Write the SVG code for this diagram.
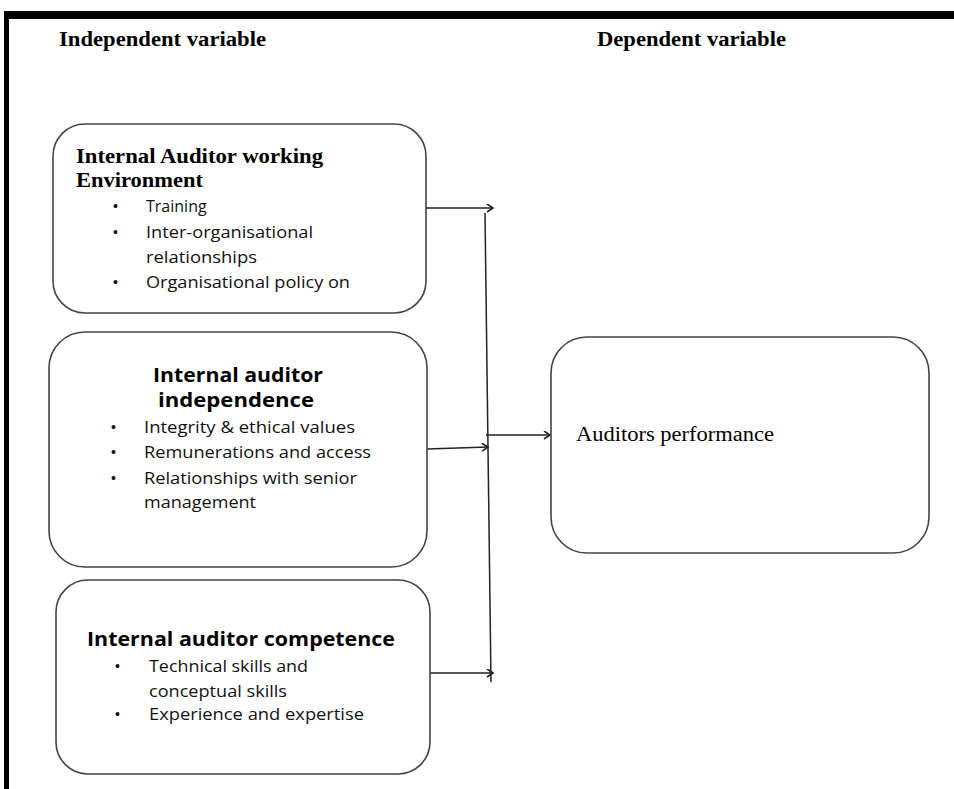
<svg xmlns="http://www.w3.org/2000/svg" width="954" height="789" viewBox="0 0 954 789">
<style>
.box{fill:#fff;stroke:#444;stroke-width:1.6}
.hd{font-family:"Liberation Serif",serif;font-weight:bold;font-size:20px;fill:#000}
.t1{font-family:"Liberation Serif",serif;font-weight:bold;font-size:21px;fill:#000}
.t2{font-family:"Open Sans","Liberation Sans",sans-serif;font-weight:bold;font-size:20px;fill:#000}
.it{font-family:"Open Sans","Liberation Sans",sans-serif;font-size:16px;fill:#111}
.bul{font-family:"Liberation Sans",sans-serif;font-size:14px;fill:#111}
.perf{font-family:"Liberation Serif",serif;font-size:20px;fill:#000}
.con{stroke:#222;stroke-width:1.5;fill:none}
</style>
<defs>
<marker id="ah" markerWidth="10" markerHeight="10" refX="8" refY="4" orient="auto" markerUnits="userSpaceOnUse">
<path d="M2,0 L8,4 L2,8" fill="none" stroke="#222" stroke-width="1.6"/>
</marker>
</defs>
<rect width="954" height="789" fill="#fff"/>
<g id="frame">
<rect x="4" y="11" width="950" height="8" fill="#000"/>
<rect x="4" y="11" width="5" height="778" fill="#000"/>
</g>
<g id="headers">
<text class="hd" x="59" y="46" textLength="207" lengthAdjust="spacingAndGlyphs">Independent variable</text>
<text class="hd" x="597" y="46" textLength="189" lengthAdjust="spacingAndGlyphs">Dependent variable</text>
</g>
<g id="connectors">
<line class="con" x1="426" y1="208" x2="493" y2="208" marker-end="url(#ah)"/>
<line class="con" x1="485" y1="213" x2="491" y2="682"/>
<line class="con" x1="427" y1="449" x2="488" y2="447" marker-end="url(#ah)"/>
<line class="con" x1="486" y1="435" x2="550" y2="435" marker-end="url(#ah)"/>
<line class="con" x1="430" y1="673" x2="493" y2="673" marker-end="url(#ah)"/>
</g>
<g id="box1">
<rect class="box" x="53" y="124" width="373" height="189" rx="32"/>
<text class="t1" x="76" y="163" textLength="247" lengthAdjust="spacingAndGlyphs">Internal Auditor working</text>
<text class="t1" x="76" y="187" textLength="127" lengthAdjust="spacingAndGlyphs">Environment</text>
<text class="bul" x="113" y="211">•</text>
<text class="it" x="146" y="212">Training</text>
<text class="bul" x="113" y="237">•</text>
<text class="it" x="146" y="238" textLength="167" lengthAdjust="spacingAndGlyphs">Inter-organisational</text>
<text class="it" x="146" y="263" textLength="111" lengthAdjust="spacingAndGlyphs">relationships</text>
<text class="bul" x="113" y="287">•</text>
<text class="it" x="146" y="288" textLength="204" lengthAdjust="spacingAndGlyphs">Organisational policy on</text>
</g>
<g id="box2">
<rect class="box" x="49" y="332" width="378" height="235" rx="36"/>
<text class="t2" x="238" y="382" text-anchor="middle" textLength="170" lengthAdjust="spacingAndGlyphs">Internal auditor</text>
<text class="t2" x="236" y="407" text-anchor="middle" textLength="156" lengthAdjust="spacingAndGlyphs">independence</text>
<text class="bul" x="111" y="432">•</text>
<text class="it" x="144" y="433" textLength="211" lengthAdjust="spacingAndGlyphs">Integrity &amp; ethical values</text>
<text class="bul" x="111" y="457">•</text>
<text class="it" x="144" y="458" textLength="227" lengthAdjust="spacingAndGlyphs">Remunerations and access</text>
<text class="bul" x="111" y="483">•</text>
<text class="it" x="144" y="484" textLength="213" lengthAdjust="spacingAndGlyphs">Relationships with senior</text>
<text class="it" x="144" y="508" textLength="112" lengthAdjust="spacingAndGlyphs">management</text>
</g>
<g id="box3">
<rect class="box" x="56" y="580" width="374" height="194" rx="32"/>
<text class="t2" x="87" y="646" textLength="308" lengthAdjust="spacingAndGlyphs">Internal auditor competence</text>
<text class="bul" x="115" y="671">•</text>
<text class="it" x="149" y="672" textLength="159" lengthAdjust="spacingAndGlyphs">Technical skills and</text>
<text class="it" x="149" y="697" textLength="138" lengthAdjust="spacingAndGlyphs">conceptual skills</text>
<text class="bul" x="115" y="719">•</text>
<text class="it" x="149" y="720" textLength="215" lengthAdjust="spacingAndGlyphs">Experience and expertise</text>
</g>
<g id="box4">
<rect class="box" x="551" y="337" width="378" height="216" rx="36"/>
<text class="perf" x="576" y="441" textLength="198" lengthAdjust="spacingAndGlyphs">Auditors performance</text>
</g>
</svg>
